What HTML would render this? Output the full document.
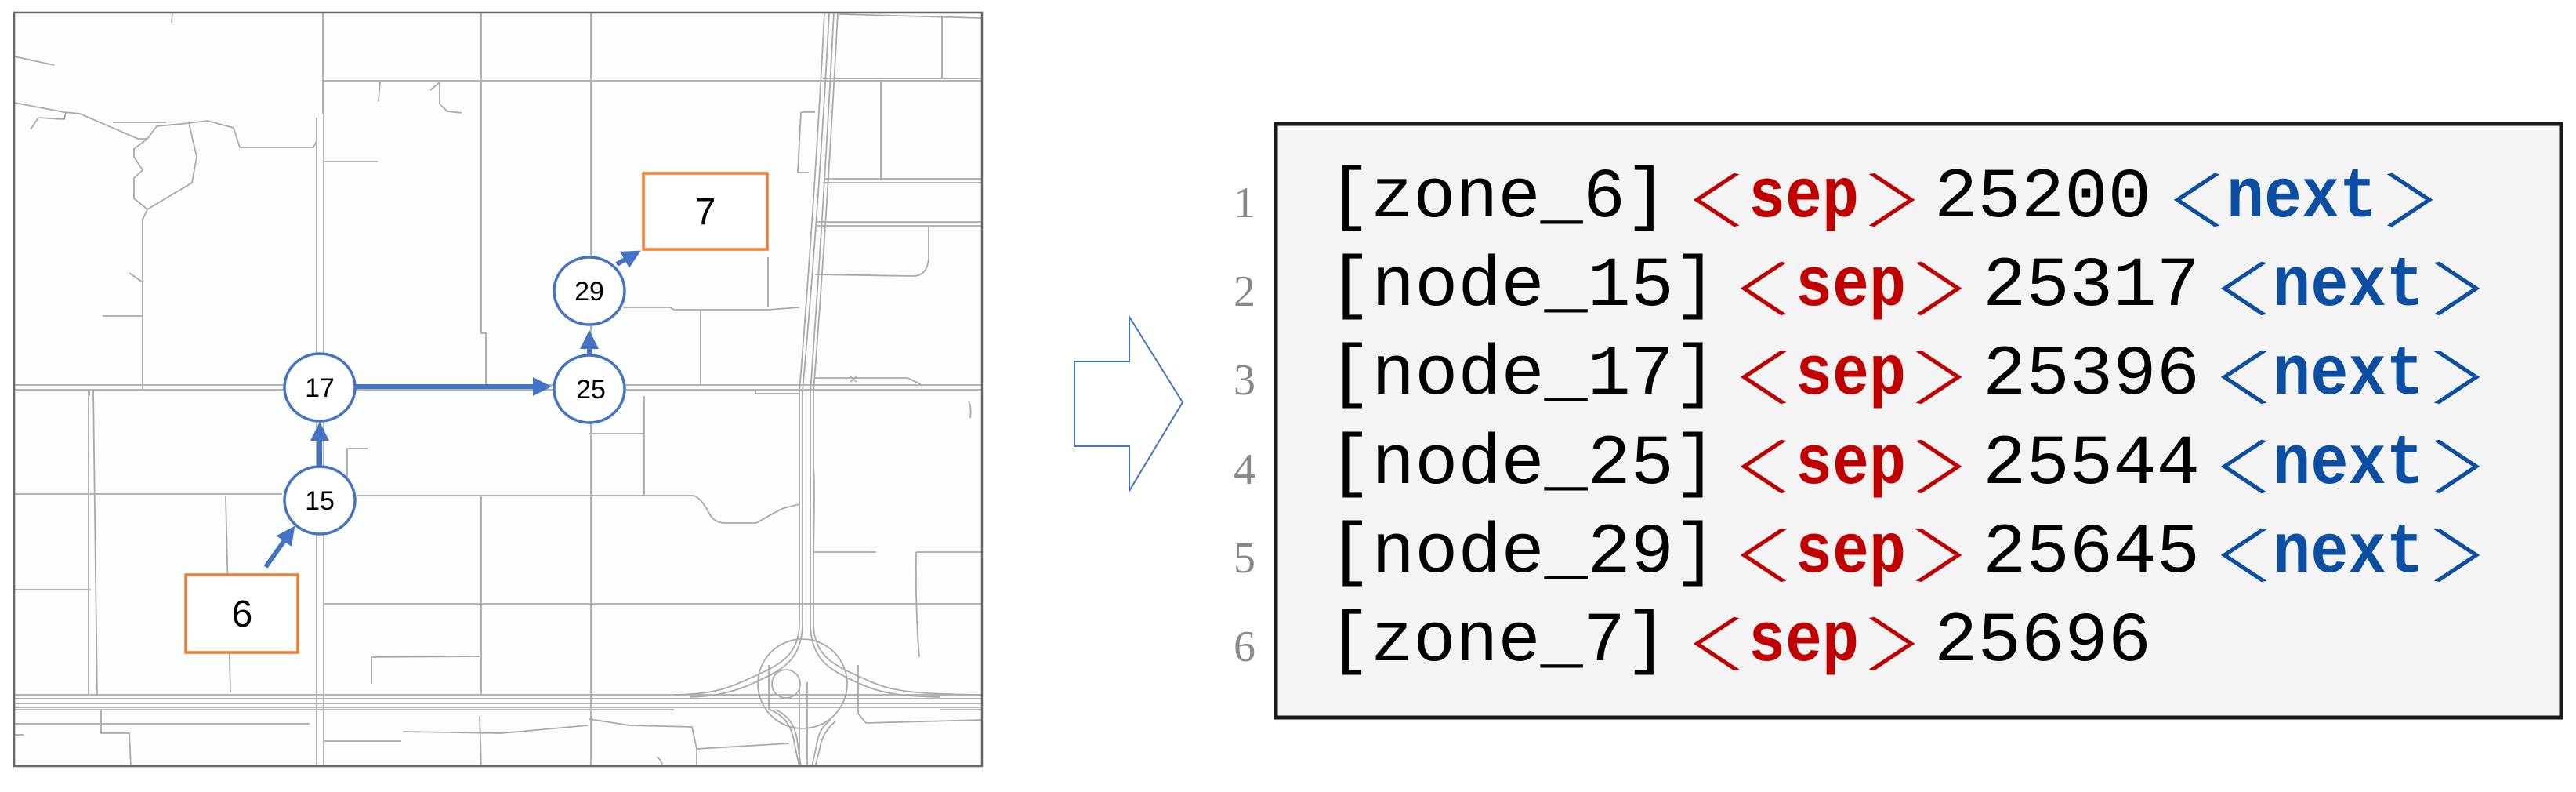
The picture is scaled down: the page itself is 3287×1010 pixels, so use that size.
<!DOCTYPE html>
<html><head><meta charset="utf-8"><style>
html,body{margin:0;padding:0;background:#fff;}
svg{display:block;}
.ab{font-family:"Noto Sans CJK JP","Noto Sans CJK SC",sans-serif;font-size:74px;font-weight:300;}
</style></head><body>
<svg width="3287" height="1010" viewBox="0 0 3287 1010" xmlns="http://www.w3.org/2000/svg">
<defs>
<marker id="ah" markerWidth="4" markerHeight="4" refX="2.5" refY="2" orient="auto" markerUnits="strokeWidth">
<path d="M0,0 L4,2 L0,4 z" fill="#4472C4"/>
</marker>
</defs>
<rect x="18" y="16" width="1235" height="961" fill="#fcfdfd"/>
<g fill="none" stroke="#aaaaaa" stroke-width="1.8">
<path d="M412,16 V145 M404,150 V978 M413,145 V978"/>
<path d="M614,16 V425 L620,425 V495"/>
<path d="M754,16 V978"/>
<path d="M412,103 H1253"/>
<path d="M1050,100 H1253"/>
<path d="M18,491 H1253 M18,497 H1253"/>
<path d="M18,131 L82,143 L102,145 L176,177 L188,177 L200,161 L241,157 L265,154 L298,163 L306,188 L400,188 L404,180"/>
<path d="M39,165 L49,150 L82,152 L84,143"/>
<path d="M144,156 H212"/>
<path d="M188,177 L171,190 L171,200 L182,217 L171,227 L171,253 L188,267 L245,233 L251,200 L241,157"/>
<path d="M188,267 L182,280 V497"/>
<path d="M165,348 L182,360 M131,403 L182,403"/>
<path d="M18,72 L69,83 M220,17 L219,29"/>
<path d="M414,206 H482 M485,104 L483,129"/>
<path d="M561,105 L549,115 M561,105 V133 L571,142 L589,144"/>
<path d="M114,497 V505"/>
<path d="M1022,143 L1040,143 M1022,143 L1018,220 L1032,220"/>
<path d="M1071,18 L1252,23 M1202,20 V100"/>
<path d="M1124,103 V230"/>
<path d="M1052,228 H1253 M1050,233 H1253"/>
<path d="M1043,283 H1253 M1043,288 H1253"/>
<path d="M1185,288 V330 Q1183,352 1165,352 L1040,350"/>
<path d="M980,328 V392 M795,392 L855,392 L860,395 L980,395 L1020,392"/>
<path d="M894,395 V492"/>
<path d="M1040,482 L1158,482 L1175,490 M1085,480 L1093,487 M1093,480 L1085,487"/>
<path d="M964,497 V502 H1020"/>
<path d="M1052,16 Q1040,250 1020,500 L1020,798"/>
<path d="M1058,16 Q1046,250 1024,500 L1024,798"/>
<path d="M1064,16 Q1052,250 1034,500 L1034,798"/>
<path d="M1069,16 Q1057,250 1038,500 L1038,798"/>
<path d="M1020,798 C1018,840 990,850 950,868 C920,882 900,885 860,886"/>
<path d="M1024,798 C1022,845 995,856 955,874 C925,886 905,888 880,889"/>
<path d="M1034,798 C1036,845 1062,856 1102,874 C1130,886 1160,888 1200,889"/>
<path d="M1038,798 C1040,840 1068,850 1108,868 C1140,882 1165,885 1253,886"/>
<circle cx="1024" cy="872" r="57"/>
<circle cx="1003" cy="872" r="18"/>
<path d="M983,905 C1005,915 1011,930 1014,950 L1020,978 M990,905 C1010,915 1016,930 1018,950 L1022,978"/>
<path d="M1060,918 C1050,925 1044,935 1042,950 L1036,978 M1066,920 C1056,928 1048,940 1046,955 L1040,978"/>
<path d="M1020,870 V978 M1030,870 V978"/>
<path d="M981,848 V905 M1095,848 V910"/>
<path d="M1038,704 H1118 M1169,704 H1252 M1169,704 Q1168,780 1173,838"/>
<path d="M640,770 H1253"/>
<path d="M1236,512 Q1240,520 1238,533"/>
<path d="M752,553 H822 M822,505 V632"/>
<path d="M455,632 H885 Q895,635 905,655 Q912,667 925,667 L965,667 Q985,655 1000,648 L1020,643"/>
<path d="M18,630 H360"/>
<path d="M1038,598 Q1040,600 1038,704"/>
<path d="M113,497 V885 M119,497 Q121,700 124,885"/>
<path d="M18,752 H116"/>
<path d="M288,632 L294,883"/>
<path d="M443,572 H469 M443,572 V632"/>
<path d="M614,632 V885"/>
<path d="M413,770 H640"/>
<path d="M474,872 V838 L612,837"/>
<path d="M18,886 H1253 M18,891 H1253 M18,897 H1253 M18,902 H1253"/>
<path d="M18,905 H860 M1200,905 H1253"/>
<path d="M129,905 V935 L165,935 L167,978"/>
<path d="M18,923 H395 M18,937 H30"/>
<path d="M412,945 L512,945 M514,933 L640,935 L750,925 M612,913 L614,978"/>
<path d="M752,917 L803,925 L883,927 L889,955 L889,978 M889,955 L1007,948"/>
<path d="M1095,910 L1105,922 L1252,918"/>
<path d="M838,965 Q845,970 845,978"/>
</g>
<rect x="18" y="16" width="1235" height="961" fill="none" stroke="#666" stroke-width="2.5"/>
<g stroke="#4472C4" stroke-width="6" fill="none" marker-end="url(#ah)">
<line x1="339" y1="723" x2="371" y2="678"/>
<line x1="408" y1="595" x2="408" y2="547"/>
<line x1="454" y1="493" x2="695" y2="493"/>
<line x1="752" y1="452" x2="752" y2="430"/>
<line x1="787" y1="337" x2="810" y2="324"/>
</g>
<g fill="#fff" stroke="#4472C4" stroke-width="3.5">
<ellipse cx="408" cy="494" rx="45" ry="43"/>
<ellipse cx="752" cy="496" rx="45" ry="43"/>
<ellipse cx="408" cy="638" rx="45" ry="43"/>
<ellipse cx="752" cy="371" rx="45" ry="43"/>
</g>
<g font-family="Liberation Sans, sans-serif" font-size="34" text-anchor="middle" fill="#000">
<text x="408" y="506">17</text>
<text x="754" y="508">25</text>
<text x="408" y="650">15</text>
<text x="752" y="383">29</text>
</g>
<rect x="237" y="733" width="143" height="99" fill="#fff" stroke="#ED7D31" stroke-width="3.5"/>
<rect x="821" y="221" width="158" height="97" fill="#fff" stroke="#ED7D31" stroke-width="3.5"/>
<g font-family="Liberation Sans, sans-serif" font-size="48" text-anchor="middle" fill="#000">
<text x="309" y="799">6</text>
<text x="900" y="286">7</text>
</g>
<path d="M1371,461 H1441 V404 L1509,513 L1441,626 V569 H1371 Z" fill="#fff" stroke="#4472C4" stroke-width="2"/>
<rect x="1628" y="158" width="1640" height="757" fill="#f4f4f4" stroke="#1a1a1a" stroke-width="5"/>
<g font-family="Liberation Serif, serif" font-size="56" fill="#888" text-anchor="middle">
<text x="1588" y="277">1</text>
<text x="1588" y="390">2</text>
<text x="1588" y="503">3</text>
<text x="1588" y="617">4</text>
<text x="1588" y="730">5</text>
<text x="1588" y="843">6</text>
</g>
<g font-family="Liberation Mono, monospace" font-size="90">
<!-- line 1 -->
<text x="1695" y="276" fill="#000" textLength="433" lengthAdjust="spacingAndGlyphs">[zone_6]</text>
<text class="ab" transform="translate(2058,283) scale(2.3,1)" fill="#c00000">〈</text>
<text x="2231" y="276" fill="#c00000" font-weight="bold" textLength="141" lengthAdjust="spacingAndGlyphs">sep</text>
<text class="ab" transform="translate(2376,283) scale(2.3,1)" fill="#c00000">〉</text>
<text x="2468" y="276" fill="#000" textLength="277" lengthAdjust="spacingAndGlyphs">25200</text>
<text class="ab" transform="translate(2671,283) scale(2.3,1)" fill="#0b4ea2">〈</text>
<text x="2841" y="276" fill="#0b4ea2" font-weight="bold" textLength="192" lengthAdjust="spacingAndGlyphs">next</text>
<text class="ab" transform="translate(3037,283) scale(2.3,1)" fill="#0b4ea2">〉</text>
<!-- line 2 -->
<text x="1695" y="389" fill="#000" textLength="496" lengthAdjust="spacingAndGlyphs">[node_15]</text>
<text class="ab" transform="translate(2118,396) scale(2.3,1)" fill="#c00000">〈</text>
<text x="2291" y="389" fill="#c00000" font-weight="bold" textLength="141" lengthAdjust="spacingAndGlyphs">sep</text>
<text class="ab" transform="translate(2436,396) scale(2.3,1)" fill="#c00000">〉</text>
<text x="2530" y="389" fill="#000" textLength="277" lengthAdjust="spacingAndGlyphs">25317</text>
<text class="ab" transform="translate(2731,396) scale(2.3,1)" fill="#0b4ea2">〈</text>
<text x="2900" y="389" fill="#0b4ea2" font-weight="bold" textLength="193" lengthAdjust="spacingAndGlyphs">next</text>
<text class="ab" transform="translate(3097,396) scale(2.3,1)" fill="#0b4ea2">〉</text>
<!-- line 3 -->
<text x="1695" y="502" fill="#000" textLength="496" lengthAdjust="spacingAndGlyphs">[node_17]</text>
<text class="ab" transform="translate(2118,509) scale(2.3,1)" fill="#c00000">〈</text>
<text x="2291" y="502" fill="#c00000" font-weight="bold" textLength="141" lengthAdjust="spacingAndGlyphs">sep</text>
<text class="ab" transform="translate(2436,509) scale(2.3,1)" fill="#c00000">〉</text>
<text x="2530" y="502" fill="#000" textLength="277" lengthAdjust="spacingAndGlyphs">25396</text>
<text class="ab" transform="translate(2731,509) scale(2.3,1)" fill="#0b4ea2">〈</text>
<text x="2900" y="502" fill="#0b4ea2" font-weight="bold" textLength="193" lengthAdjust="spacingAndGlyphs">next</text>
<text class="ab" transform="translate(3097,509) scale(2.3,1)" fill="#0b4ea2">〉</text>
<!-- line 4 -->
<text x="1695" y="616" fill="#000" textLength="496" lengthAdjust="spacingAndGlyphs">[node_25]</text>
<text class="ab" transform="translate(2118,623) scale(2.3,1)" fill="#c00000">〈</text>
<text x="2291" y="616" fill="#c00000" font-weight="bold" textLength="141" lengthAdjust="spacingAndGlyphs">sep</text>
<text class="ab" transform="translate(2436,623) scale(2.3,1)" fill="#c00000">〉</text>
<text x="2530" y="616" fill="#000" textLength="277" lengthAdjust="spacingAndGlyphs">25544</text>
<text class="ab" transform="translate(2731,623) scale(2.3,1)" fill="#0b4ea2">〈</text>
<text x="2900" y="616" fill="#0b4ea2" font-weight="bold" textLength="193" lengthAdjust="spacingAndGlyphs">next</text>
<text class="ab" transform="translate(3097,623) scale(2.3,1)" fill="#0b4ea2">〉</text>
<!-- line 5 -->
<text x="1695" y="729" fill="#000" textLength="496" lengthAdjust="spacingAndGlyphs">[node_29]</text>
<text class="ab" transform="translate(2118,736) scale(2.3,1)" fill="#c00000">〈</text>
<text x="2291" y="729" fill="#c00000" font-weight="bold" textLength="141" lengthAdjust="spacingAndGlyphs">sep</text>
<text class="ab" transform="translate(2436,736) scale(2.3,1)" fill="#c00000">〉</text>
<text x="2530" y="729" fill="#000" textLength="277" lengthAdjust="spacingAndGlyphs">25645</text>
<text class="ab" transform="translate(2731,736) scale(2.3,1)" fill="#0b4ea2">〈</text>
<text x="2900" y="729" fill="#0b4ea2" font-weight="bold" textLength="193" lengthAdjust="spacingAndGlyphs">next</text>
<text class="ab" transform="translate(3097,736) scale(2.3,1)" fill="#0b4ea2">〉</text>
<!-- line 6 -->
<text x="1695" y="842" fill="#000" textLength="433" lengthAdjust="spacingAndGlyphs">[zone_7]</text>
<text class="ab" transform="translate(2058,849) scale(2.3,1)" fill="#c00000">〈</text>
<text x="2231" y="842" fill="#c00000" font-weight="bold" textLength="141" lengthAdjust="spacingAndGlyphs">sep</text>
<text class="ab" transform="translate(2376,849) scale(2.3,1)" fill="#c00000">〉</text>
<text x="2468" y="842" fill="#000" textLength="277" lengthAdjust="spacingAndGlyphs">25696</text>
</g>
</svg>
</body></html>
